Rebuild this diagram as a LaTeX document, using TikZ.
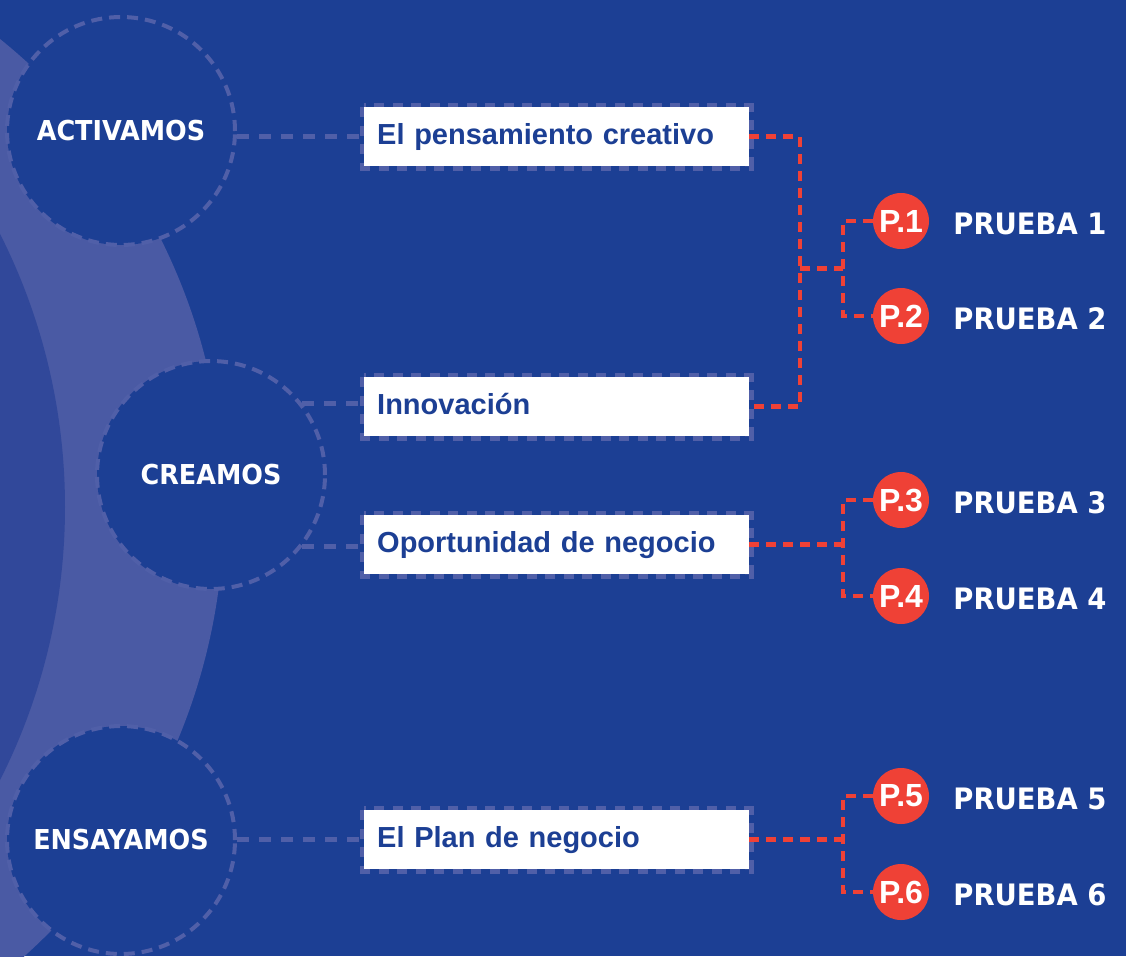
\documentclass[tikz,border=0pt]{standalone}
\usepackage{fontspec}
\setmainfont{Liberation Sans}
\newfontfamily\dejavu{DejaVu Sans}[FakeStretch=0.93]
\usetikzlibrary{calc}
\definecolor{bgblue}{RGB}{28,63,148}
\definecolor{bandblue}{RGB}{74,90,164}
\definecolor{innerblue}{RGB}{49,72,154}
\definecolor{dashgray}{RGB}{80,95,168}
\definecolor{pred}{RGB}{239,65,54}
\pgfdeclarelayer{back}
\pgfdeclarelayer{links}
\pgfsetlayers{back,links,main}
\begin{document}
\begin{tikzpicture}[x=1pt,y=-1pt,
  stage/.style={circle, minimum size=228pt, inner sep=0pt, fill=bgblue, draw=dashgray,
    line width=4pt, dash pattern=on 11pt off 7pt, text=white,
    font=\dejavu\bfseries\fontsize{27.4}{31}\selectfont},
  topic/.style={rectangle, anchor=north west, minimum height=59pt, fill=white,
    text=bgblue, font=\bfseries\fontsize{29}{34}\selectfont, text height=21pt,
    text depth=6pt, inner xsep=13pt, inner ysep=0pt, text width=359pt, align=left},
  boxedge/.style={draw=dashgray, line width=9pt, dash pattern=on 10pt off 8.5pt},
  grayline/.style={draw=dashgray, line width=5pt, dash pattern=on 12pt off 10pt},
  redline/.style={draw=pred, line width=4.5pt, dash pattern=on 10pt off 7pt},
  pcirc/.style={circle, minimum size=56pt, inner sep=0pt, fill=pred, text=white,
    font=\bfseries\fontsize{32}{36}\selectfont},
  prlabel/.style={anchor=west, inner sep=0pt, text=white,
    font=\dejavu\bfseries\fontsize{29.5}{34}\selectfont}
]
\useasboundingbox (0,0) rectangle (1126,956);
\begin{pgfonlayer}{back}
  \fill[bgblue] (0,0) rectangle (1126,956);
  \begin{scope}
    \clip (0,0) rectangle (1126,956);
    \fill[bandblue] (-379,508) circle (603);
    \fill[innerblue] (-540,507) circle (605);
  \end{scope}
\end{pgfonlayer}

% stages
\node[stage] (act) at (121,131) {ACTIVAMOS};
\node[stage] (cre) at (211,475) {CREAMOS};
\node[stage] (ens) at (121,840) {ENSAYAMOS};

% topics
\node[topic] (b1) at (364,107) {El pensamiento creativo};
\node[topic] (b2) at (364,377) {Innovación};
\node[topic] (b3) at (364,515) {Oportunidad de negocio};
\node[topic] (b4) at (364,810) {El Plan de negocio};

% tests
\node[pcirc] (p1) at (901,221) {P.1};
\node[pcirc] (p2) at (901,316) {P.2};
\node[pcirc] (p3) at (901,500) {P.3};
\node[pcirc] (p4) at (901,596) {P.4};
\node[pcirc] (p5) at (901,796) {P.5};
\node[pcirc] (p6) at (901,892) {P.6};

\node[prlabel] (l1) at ($(p1.east)+(24,3)$) {PRUEBA 1};
\node[prlabel] (l2) at ($(p2.east)+(24,3)$) {PRUEBA 2};
\node[prlabel] (l3) at ($(p3.east)+(24,3)$) {PRUEBA 3};
\node[prlabel] (l4) at ($(p4.east)+(24,3)$) {PRUEBA 4};
\node[prlabel] (l5) at ($(p5.east)+(24,3)$) {PRUEBA 5};
\node[prlabel] (l6) at ($(p6.east)+(24,3)$) {PRUEBA 6};

\coordinate (r1) at (800,0);
\coordinate (jx) at (843,0);

\begin{pgfonlayer}{links}
  % gray connectors
  \draw[grayline] (act.east |- b1.west) -- (b1.west);
  \draw[grayline] (cre.38) -- (cre.38 -| b2.west);
  \draw[grayline] (cre.-38) -- (cre.-38 -| b3.west);
  \draw[grayline] (ens.east |- b4.west) -- (b4.west);
  % box outlines
  \foreach \b in {b1,b2,b3,b4}
    \draw[boxedge] (\b.north west) rectangle (\b.south east);
  % red connectors
  \draw[redline] (b1.east) -- (b1.east -| r1) -- (b2.east -| r1) -- (b2.east);
  \draw[redline] (p1.west) -- (p1.west -| jx) -- (p2.west -| jx) -- (p2.west);
  \draw[redline] ($(p1.west -| r1)!0.5!(p2.west -| r1)$) -- ($(p1.west -| jx)!0.5!(p2.west -| jx)$);
  \draw[redline] (p3.west) -- (p3.west -| jx) -- (p4.west -| jx) -- (p4.west);
  \draw[redline] (b3.east) -- (b3.east -| jx);
  \draw[redline] (p5.west) -- (p5.west -| jx) -- (p6.west -| jx) -- (p6.west);
  \draw[redline] (b4.east) -- (b4.east -| jx);
\end{pgfonlayer}
\end{tikzpicture}
\end{document}
